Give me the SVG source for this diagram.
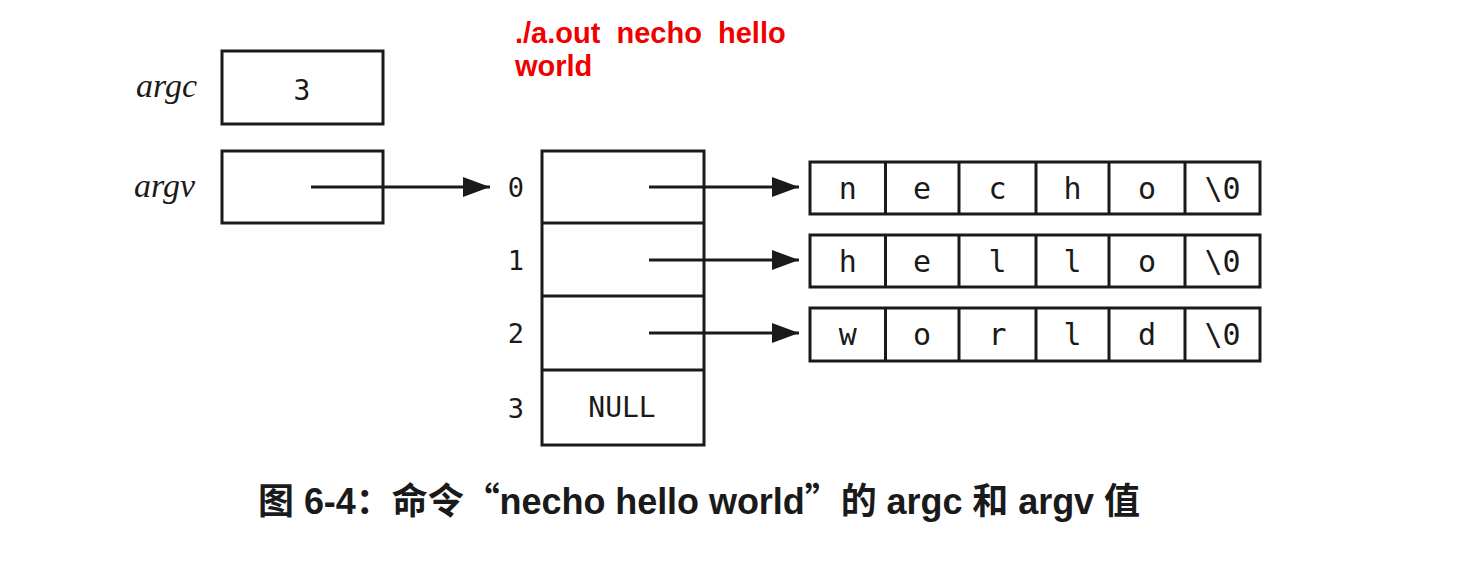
<svg xmlns="http://www.w3.org/2000/svg" width="1468" height="582" viewBox="0 0 1468 582">
<style>
.box{fill:none;stroke:#1a1a1a;stroke-width:3}
.line{stroke:#1a1a1a;stroke-width:3;fill:none}
.lbl{font-family:"Liberation Serif",serif;font-style:italic;font-size:34px;fill:#1a1a1a}
.mono{font-family:"DejaVu Sans Mono",monospace;fill:#1a1a1a;text-anchor:middle}
.cell{font-size:30px}
.idx{font-size:27px}
.red{font-family:"Liberation Sans",Arial,sans-serif;font-weight:bold;font-size:29px;fill:#f00000;stroke:#fff;stroke-width:4;stroke-linejoin:round;paint-order:stroke;white-space:pre}
.cap{font-family:"Noto Sans CJK SC",sans-serif;font-weight:bold;font-size:36px;fill:#1a1a1a}
.lat{font-family:"Liberation Sans",Arial,sans-serif;font-weight:bold}
</style>
<defs>
<marker id="ah" markerWidth="27" markerHeight="20" refX="27" refY="10" orient="auto" markerUnits="userSpaceOnUse">
<path d="M0,0 L27,10 L0,20 Z" fill="#1a1a1a"/>
</marker>
</defs>
<rect width="1468" height="582" fill="#ffffff"/>

<g id="note">
<text class="red" x="515" y="43" xml:space="preserve">./a.out  necho  hello</text>
<text class="red" x="515" y="76">world</text>
</g>

<g id="argc">
<text class="lbl" x="136" y="97">argc</text>
<rect class="box" x="222" y="51" width="161" height="73"/>
<text class="mono" x="302" y="100" font-size="28">3</text>
</g>

<g id="argv">
<text class="lbl" x="134" y="197">argv</text>
<rect class="box" x="222" y="151" width="161" height="72"/>
</g>

<g id="array">
<rect class="box" x="542" y="151" width="162" height="294"/>
<line class="line" x1="542" y1="223" x2="704" y2="223"/>
<line class="line" x1="542" y1="296" x2="704" y2="296"/>
<line class="line" x1="542" y1="370" x2="704" y2="370"/>
<text class="mono idx" x="516" y="197">0</text>
<text class="mono idx" x="516" y="270">1</text>
<text class="mono idx" x="516" y="343">2</text>
<text class="mono idx" x="516" y="418">3</text>
<text class="mono" x="622" y="417" font-size="28">NULL</text>
</g>

<g id="str0">
<rect class="box" x="810" y="162" width="450" height="52"/>
<path class="line" d="M885.5,162V214M959,162V214M1036,162V214M1109,162V214M1185,162V214"/>
<text class="mono cell" y="199"><tspan x="847.7">n</tspan><tspan x="922">e</tspan><tspan x="997.5">c</tspan><tspan x="1072.5">h</tspan><tspan x="1147">o</tspan><tspan x="1222.5">\0</tspan></text>
</g>

<g id="str1">
<rect class="box" x="810" y="235" width="450" height="52"/>
<path class="line" d="M885.5,235V287M959,235V287M1036,235V287M1109,235V287M1185,235V287"/>
<text class="mono cell" y="272"><tspan x="847.7">h</tspan><tspan x="922">e</tspan><tspan x="997.5">l</tspan><tspan x="1072.5">l</tspan><tspan x="1147">o</tspan><tspan x="1222.5">\0</tspan></text>
</g>

<g id="str2">
<rect class="box" x="810" y="308" width="450" height="53"/>
<path class="line" d="M885.5,308V361M959,308V361M1036,308V361M1109,308V361M1185,308V361"/>
<text class="mono cell" y="345"><tspan x="847.7">w</tspan><tspan x="922">o</tspan><tspan x="997.5">r</tspan><tspan x="1072.5">l</tspan><tspan x="1147">d</tspan><tspan x="1222.5">\0</tspan></text>
</g>

<g id="connectors">
<line class="line" x1="311" y1="187" x2="490" y2="187" marker-end="url(#ah)"/>
<line class="line" x1="649" y1="187" x2="799" y2="187" marker-end="url(#ah)"/>
<line class="line" x1="649" y1="260" x2="799" y2="260" marker-end="url(#ah)"/>
<line class="line" x1="649" y1="333" x2="799" y2="333" marker-end="url(#ah)"/>
</g>

<g id="caption">
<text class="cap" x="258" y="514" textLength="882" lengthAdjust="spacing">图<tspan class="lat"> 6-4</tspan>：命令“<tspan class="lat">necho hello world</tspan>”的<tspan class="lat"> argc </tspan>和<tspan class="lat"> argv </tspan>值</text>
</g>
</svg>
